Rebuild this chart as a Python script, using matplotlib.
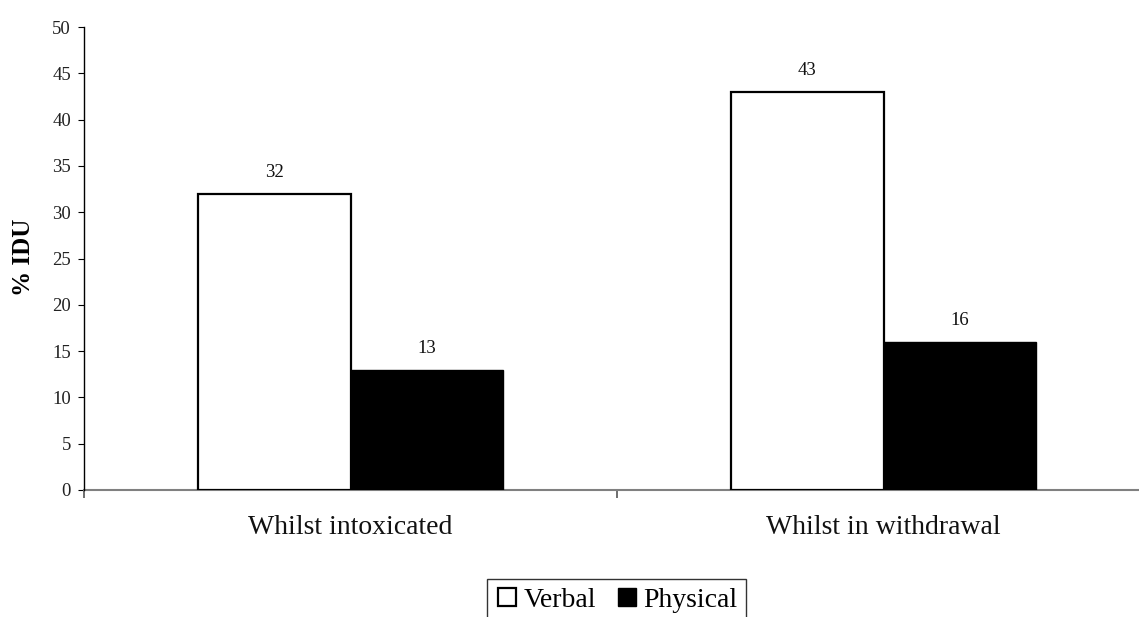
import matplotlib
matplotlib.use("Agg")
import matplotlib.pyplot as plt
import numpy as np
from matplotlib.lines import Line2D

categories = ["Whilst intoxicated", "Whilst in withdrawal"]
series_names = ["Verbal", "Physical"]
verbal = [32, 43]
physical = [13, 16]
yticks = [0, 5, 10, 15, 20, 25, 30, 35, 40, 45, 50]

plt.rcParams['font.family'] = ['Liberation Serif', 'DejaVu Serif']

W, H = 1139, 617
fig = plt.figure(figsize=(W / 100, H / 100), dpi=100)
left, right, top, bottom = 84, 1150, 27, 490
ax = fig.add_axes([left / W, 1 - bottom / H, (right - left) / W, (bottom - top) / H])

x = np.arange(len(categories))
bw = 0.287
b1 = ax.bar(x - bw / 2, verbal, bw, color='white', edgecolor='black', linewidth=1.6,
            label=series_names[0], zorder=3)
b2 = ax.bar(x + bw / 2, physical, bw, color='black', edgecolor='black', linewidth=1.0,
            label=series_names[1], zorder=3)

for bars in (b1, b2):
    for r in bars:
        ax.annotate(f"{int(r.get_height())}", (r.get_x() + r.get_width() / 2, r.get_height()),
                    xytext=(0, 12), textcoords='offset points', ha='center', va='baseline',
                    fontsize=13.5, color='#111111')

ax.set_xlim(-0.5, len(categories) - 0.5)
ax.set_ylim(0, 50)
ax.set_yticks(yticks)
ax.set_yticklabels([str(t) for t in yticks])
ax.tick_params(axis='y', direction='out', length=4.3, width=0.8, pad=5, labelsize=13.5,
               colors='black', labelcolor='#222222')

ax.set_xticks(np.arange(-0.5, len(categories), 1.0))
ax.set_xticklabels([])
ax.tick_params(axis='x', which='major', direction='out', length=6, width=1.2, color='#555555')
ax.set_xticks(x, minor=True)
ax.set_xticklabels(categories, minor=True, fontsize=20, color='#111111')
ax.tick_params(axis='x', which='minor', length=0, pad=18)

for s in ('top', 'right'):
    ax.spines[s].set_visible(False)
ax.spines['left'].set_color('black')
ax.spines['left'].set_linewidth(1.0)
ax.spines['bottom'].set_color('#808080')
ax.spines['bottom'].set_linewidth(1.5)
ax.spines['bottom'].set_zorder(2)

fig.text(23 / W, 1 - 257 / H, "% IDU", rotation=90, ha='center', va='center',
         fontsize=18, fontweight='bold')

handles = [Line2D([], [], marker='s', linestyle='none', markersize=13, markerfacecolor='white',
                  markeredgecolor='black', markeredgewidth=1.6),
           Line2D([], [], marker='s', linestyle='none', markersize=13, markerfacecolor='black',
                  markeredgecolor='black')]
leg = fig.legend(handles, series_names, loc='upper center', bbox_to_anchor=(616.5 / W, 1 - 579 / H),
                 ncol=2, fontsize=20, frameon=True, fancybox=False, edgecolor='black',
                 handlelength=0.8, handletextpad=0.2, columnspacing=0.7, borderpad=0.3,
                 borderaxespad=0)
leg.get_frame().set_linewidth(1.0)

fig.savefig("out.png", dpi=100)
